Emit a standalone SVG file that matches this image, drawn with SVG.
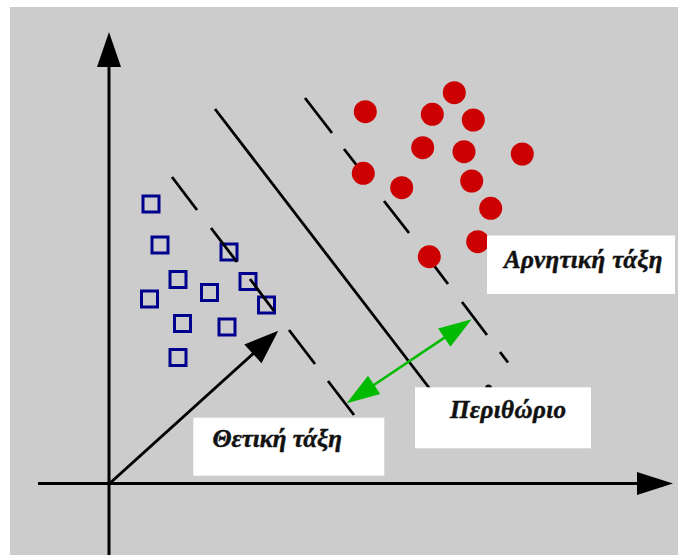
<svg xmlns="http://www.w3.org/2000/svg" width="678" height="555" viewBox="0 0 678 555">
  <style>
    .ln { stroke: #000; stroke-width: 2.8; stroke-linecap: butt; fill: none; }
    .ax { stroke: #000; stroke-width: 3; fill: none; }
    .sq { fill: none; stroke: #00008f; stroke-width: 3; }
    .pt { fill: #cc0000; }
    .box { fill: #fff; }
    .lbl { font-family: "Liberation Serif", "DejaVu Serif", serif; font-style: italic; font-weight: bold; font-size: 25px; fill: #111; stroke: #111; stroke-width: 0.5; }
  </style>
  <rect x="0" y="0" width="678" height="555" fill="#fff"/>
  <rect x="10" y="7" width="668" height="548" fill="#cccccc"/>

  <g id="axes">
    <line class="ax" x1="109" y1="62" x2="109" y2="555"/>
    <polygon points="109,32 97,67 121,67" fill="#000"/>
    <line class="ax" x1="38" y1="483.5" x2="642" y2="483.5"/>
    <polygon points="673,483.5 637,472 637,495" fill="#000"/>
  </g>

  <g id="class-positive">
    <rect class="sq" x="143" y="196" width="16" height="16"/>
    <rect class="sq" x="152" y="237" width="16" height="16"/>
    <rect class="sq" x="221" y="244" width="16" height="16"/>
    <rect class="sq" x="170" y="271.5" width="16" height="16"/>
    <rect class="sq" x="240" y="273.5" width="16" height="16"/>
    <rect class="sq" x="201.5" y="284.5" width="16" height="16"/>
    <rect class="sq" x="141.5" y="291" width="16" height="16"/>
    <rect class="sq" x="258.5" y="297" width="16" height="16"/>
    <rect class="sq" x="174.5" y="315.5" width="16" height="16"/>
    <rect class="sq" x="219" y="319" width="16" height="16"/>
    <rect class="sq" x="170" y="349.5" width="16" height="16"/>
  </g>

  <g id="connectors">
    <g id="margin-positive">
      <line class="ln" x1="172" y1="177" x2="197" y2="210"/>
      <line class="ln" x1="211" y1="228" x2="237" y2="262"/>
      <line class="ln" x1="250" y1="279" x2="274" y2="311"/>
      <line class="ln" x1="289" y1="330" x2="315" y2="364"/>
      <line class="ln" x1="328" y1="381" x2="354" y2="415"/>
    </g>
    <line id="hyperplane" class="ln" x1="215" y1="109" x2="440" y2="402"/>
    <g id="margin-negative">
      <line class="ln" x1="305" y1="98" x2="332" y2="133"/>
      <line class="ln" x1="344" y1="149" x2="369" y2="181"/>
      <line class="ln" x1="384" y1="201" x2="409" y2="233"/>
      <line class="ln" x1="423" y1="251" x2="448" y2="284"/>
      <line class="ln" x1="462" y1="302" x2="487" y2="335"/>
      <line class="ln" x1="500" y1="352" x2="508" y2="362.5"/>
    </g>
    <g id="weight-vector">
      <line stroke="#000" stroke-width="3" x1="109" y1="484" x2="255" y2="352"/>
      <polygon points="278.3,330.7 244.3,344.5 261.5,363.3" fill="#000"/>
    </g>
    <g id="margin-arrow">
      <line stroke="#00bb00" stroke-width="2.5" x1="372" y1="386.3" x2="446" y2="336.6"/>
      <polygon points="471.7,319.3 438.2,328.6 450.4,346.8" fill="#00bb00"/>
      <polygon points="346.7,403.3 368,375.8 380.2,394" fill="#00bb00"/>
    </g>
  </g>

  <g id="class-negative">
    <circle class="pt" cx="365.3" cy="111.7" r="11.5"/>
    <circle class="pt" cx="454.3" cy="92.7" r="11.5"/>
    <circle class="pt" cx="432.3" cy="114.3" r="11.5"/>
    <circle class="pt" cx="473.3" cy="120" r="11.5"/>
    <circle class="pt" cx="422.7" cy="147.7" r="11.5"/>
    <circle class="pt" cx="464" cy="151.7" r="11.5"/>
    <circle class="pt" cx="522.3" cy="154" r="11.5"/>
    <circle class="pt" cx="363.3" cy="173.3" r="11.5"/>
    <circle class="pt" cx="401.7" cy="187.7" r="11.5"/>
    <circle class="pt" cx="471.7" cy="181" r="11.5"/>
    <circle class="pt" cx="490.7" cy="208.3" r="11.5"/>
    <circle class="pt" cx="477.7" cy="241.7" r="11.5"/>
    <circle class="pt" cx="429.3" cy="256.7" r="11.5"/>
  </g>

  <circle cx="488.5" cy="388" r="3.5" fill="#111"/>

  <g id="label-negative">
    <rect class="box" x="487" y="235.5" width="188" height="58.5"/>
    <text class="lbl" x="504" y="267.5" textLength="158.5" lengthAdjust="spacing">Αρνητική τάξη</text>
  </g>

  <g id="label-margin">
    <rect class="box" x="415" y="387.3" width="176" height="61"/>
    <text class="lbl" x="450" y="418.3" textLength="116" lengthAdjust="spacing">Περιθώριο</text>
  </g>

  <g id="label-positive">
    <rect class="box" x="193.3" y="417.7" width="191" height="58"/>
    <text class="lbl" x="212.5" y="447.3" textLength="129.5" lengthAdjust="spacing">Θετική τάξη</text>
  </g>
</svg>
